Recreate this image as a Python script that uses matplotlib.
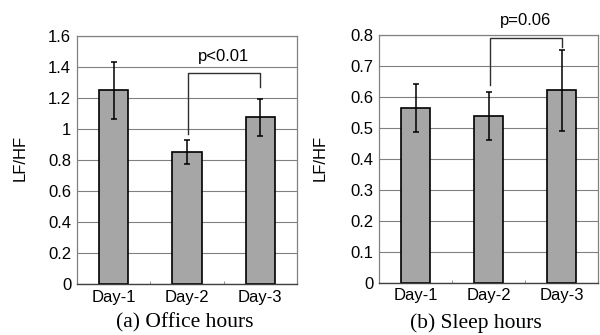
import matplotlib.pyplot as plt

days = ['Day-1', 'Day-2', 'Day-3']

office_mean = [1.25, 0.85, 1.075]
office_err = [0.185, 0.078, 0.12]

sleep_mean = [0.563, 0.538, 0.62]
sleep_err = [0.078, 0.077, 0.13]

# bracket: (y of bar-2 end, y of top line, y of bar-3 end), label
office_bracket = [0.968, 1.363, 1.269]
office_p = 'p<0.01'
sleep_bracket = [0.638, 0.788, 0.761]
sleep_p = 'p=0.06'

plt.rcParams['font.family'] = ['Liberation Sans', 'DejaVu Sans']

fig = plt.figure(figsize=(6, 3.35), dpi=100)
ax1 = fig.add_axes([0.128, 0.152, 0.367, 0.7405])
ax2 = fig.add_axes([0.632, 0.156, 0.365, 0.7405])


def draw(ax, mean, err, ymax, step, bracket, ptext, ptext_y):
    x = list(range(len(days)))
    ax.set_axisbelow(True)
    ax.bar(x, mean, width=0.4, color='#a6a6a6', edgecolor='black', linewidth=1.2, zorder=2)
    ax.errorbar(x, mean, yerr=err, fmt='none', ecolor='black', elinewidth=1.1,
                capsize=2.5, capthick=1.1, zorder=3)
    ax.set_xlim(-0.5, 2.5)
    ax.set_ylim(0, ymax)
    ticks = [round(i * step, 2) for i in range(int(round(ymax / step)) + 1)]
    ax.set_yticks(ticks)
    ax.set_yticklabels(['0' if t == 0 else ('1' if t == 1 else f'{t:g}') for t in ticks])
    ax.yaxis.grid(True, color='#808080', linewidth=0.8)
    ax.set_xticks(x)
    ax.set_xticklabels(days)
    ax.set_xticks([0.5, 1.5], minor=True)
    ax.tick_params(axis='both', which='major', length=0, labelsize=12, pad=4)
    ax.tick_params(axis='x', which='minor', length=2, direction='in', color='#808080')
    for side in ['left', 'top', 'right']:
        ax.spines[side].set_color('#808080')
        ax.spines[side].set_linewidth(0.9)
    ax.spines['bottom'].set_color('#404040')
    ax.spines['bottom'].set_linewidth(1.0)
    # significance bracket between Day-2 and Day-3
    ax.plot([1.02, 1.02, 2.0, 2.0], [bracket[0], bracket[1], bracket[1], bracket[2]],
            color='#303030', linewidth=1.0, clip_on=False, zorder=4)
    ax.text(1.5, ptext_y, ptext, ha='center', va='center', fontsize=12, clip_on=False)


draw(ax1, office_mean, office_err, 1.6, 0.2, office_bracket, office_p, 1.465)
draw(ax2, sleep_mean, sleep_err, 0.8, 0.1, sleep_bracket, sleep_p, 0.845)

fig.text(0.033, 0.53, 'LF/HF', rotation=90, ha='center', va='center', fontsize=12)
fig.text(0.533, 0.53, 'LF/HF', rotation=90, ha='center', va='center', fontsize=12)

fig.text(0.308, 0.036, '(a) Office hours', ha='center', va='center', fontsize=15.5,
         family=['Liberation Serif', 'DejaVu Serif'])
fig.text(0.7925, 0.036, '(b) Sleep hours', ha='center', va='center', fontsize=15.5,
         family=['Liberation Serif', 'DejaVu Serif'])

fig.savefig('out.png', dpi=100)
